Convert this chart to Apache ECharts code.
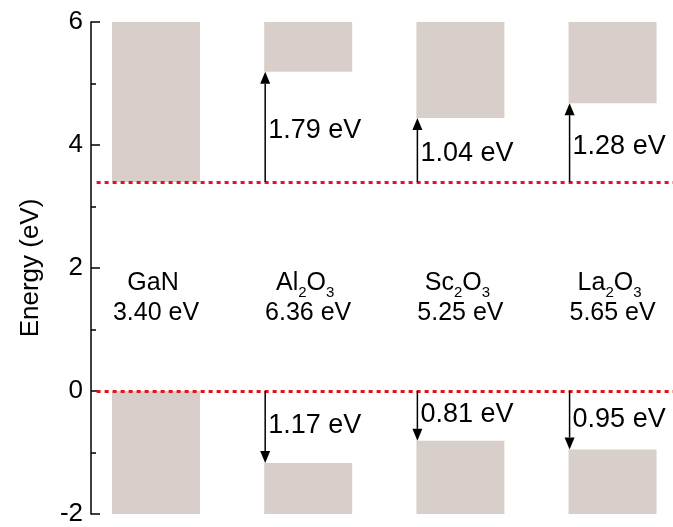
<!DOCTYPE html>
<html><head><meta charset="utf-8">
<script src="https://cdn.jsdelivr.net/npm/echarts@6/dist/echarts.min.js"></script>
<style>html,body{margin:0;padding:0;background:#fff}#c{width:673px;height:527px}</style>
</head><body><div id="c"></div>
<script>
// ---- data ----
const materials = ['GaN', 'Al2O3', 'Sc2O3', 'La2O3'];
const bandGaps = [3.40, 6.36, 5.25, 5.65];
const bandGapLabels = ['3.40 eV', '6.36 eV', '5.25 eV', '5.65 eV'];
const cbOffsets = [null, 1.79, 1.04, 1.28];   // conduction band offsets vs GaN
const vbOffsets = [null, 1.17, 0.81, 0.95];   // valence band offsets vs GaN
const cbOffsetLabels = [null, '1.79 eV', '1.04 eV', '1.28 eV'];
const vbOffsetLabels = [null, '1.17 eV', '0.81 eV', '0.95 eV'];
const referenceLevels = [0, 3.40];            // GaN VBM and CBM
const yTicks = [-2, 0, 2, 4, 6];
const yMin = -2, yMax = 6;

// ---- build ----
const FONT = '"Liberation Sans", Arial, sans-serif';
const gaNCbm = bandGaps[0];
const bars = [];
materials.forEach((m, i) => {
  const cb = i === 0 ? gaNCbm : gaNCbm + cbOffsets[i];
  const vb = i === 0 ? 0 : -vbOffsets[i];
  bars.push([i, cb, yMax]);
  bars.push([i, yMin, vb]);
});
const arrows = [];
materials.forEach((m, i) => {
  if (i === 0) return;
  arrows.push([i, gaNCbm, gaNCbm + cbOffsets[i], cbOffsetLabels[i]]);
  arrows.push([i, 0, -vbOffsets[i], vbOffsetLabels[i]]);
});
const labelData = materials.map((m, i) => [i, m, bandGapLabels[i]]);

const BAR_W = 88;
const chart = echarts.init(document.getElementById('c'));
chart.setOption({
  animation: false,
  backgroundColor: '#fff',
  grid: { left: 91, right: 0, top: 22, bottom: 11, containLabel: false },
  xAxis: { type: 'value', min: -0.427, max: 3.397, show: false },
  yAxis: {
    type: 'value', min: yMin, max: yMax, interval: 2,
    name: 'Energy (eV)', nameLocation: 'middle', nameGap: 47,
    nameTextStyle: { fontSize: 26, color: '#000', fontFamily: FONT },
    axisLine: { show: true, onZero: false, lineStyle: { color: '#000', width: 1.5 } },
    axisTick: { show: true, inside: true, length: 9, lineStyle: { color: '#000', width: 1.5 } },
    minorTick: { show: true, splitNumber: 2, length: 5, lineStyle: { color: '#000', width: 1.5 } },
    splitLine: { show: false },
    axisLabel: { fontSize: 26, color: '#000', fontFamily: FONT, margin: 8,
      formatter: v => yTicks.includes(v) ? String(v) : '' }
  },
  series: [
    {
      type: 'custom', z: 2, clip: false,
      data: bars,
      renderItem(params, api) {
        const x = api.value(0), lo = api.value(1), hi = api.value(2);
        const p1 = api.coord([x, hi]), p2 = api.coord([x, lo]);
        return { type: 'rect', shape: { x: p1[0] - BAR_W / 2, y: p1[1], width: BAR_W, height: p2[1] - p1[1] },
          style: { fill: '#d8cfcb' } };
      }
    },
    {
      type: 'line', z: 5, data: [], silent: true,
      markLine: {
        silent: true, symbol: ['none', 'none'], label: { show: false },
        lineStyle: { color: '#e8101a', type: [4, 4], width: 3 },
        data: referenceLevels.map(v => [{ coord: [-0.39, v] }, { coord: [3.397, v] }])
      }
    },
    {
      type: 'custom', z: 6, clip: false,
      data: arrows,
      renderItem(params, api) {
        const i = api.value(0), from = api.value(1), to = api.value(2);
        const label = arrows[params.dataIndex][3];
        const c = api.coord([i, from]), t = api.coord([i, to]);
        const x = c[0] - BAR_W / 2 + 1;
        const y0 = c[1], y1 = t[1];
        const dir = y1 < y0 ? -1 : 1;
        const headL = 12, headW = 5;
        const mid = api.coord([i, (from + to) / 2]);
        const shift = dir < 0 ? 4 : -1;
        return { type: 'group', children: [
          { type: 'line', shape: { x1: x, y1: y0, x2: x, y2: y1 - dir * headL },
            style: { stroke: '#000', lineWidth: 1.5 } },
          { type: 'polygon', shape: { points: [[x, y1], [x - headW, y1 - dir * headL], [x + headW, y1 - dir * headL]] },
            style: { fill: '#000' } },
          { type: 'text', x: x + 3, y: mid[1] + shift,
            style: { text: label, fontSize: 27, fontFamily: FONT, fill: '#000', align: 'left', verticalAlign: 'middle' } }
        ] };
      }
    },
    {
      type: 'custom', z: 6, clip: false,
      data: labelData,
      renderItem(params, api) {
        const i = api.value(0);
        const d = labelData[params.dataIndex];
        const rich = d[1].replace(/([A-Za-z]+)/g, '{m|$1}').replace(/(\d)/g, '{s|$1}');
        const pName = api.coord([i, 1.72]);
        const pGap = api.coord([i, 1.27]);
        return { type: 'group', children: [
          { type: 'text', x: pName[0] - 3, y: pName[1],
            style: { text: rich, fontFamily: FONT, fill: '#000', align: 'center', verticalAlign: 'middle',
              rich: {
                m: { fontSize: 25, lineHeight: 30, padding: [0, 0, 8, 0], verticalAlign: 'top', fontFamily: FONT, color: '#000' },
                s: { fontSize: 15, lineHeight: 15, verticalAlign: 'bottom', fontFamily: FONT, color: '#000' }
              } } },
          { type: 'text', x: pGap[0], y: pGap[1],
            style: { text: d[2], fontSize: 25, fontFamily: FONT, fill: '#000', align: 'center', verticalAlign: 'middle' } }
        ] };
      }
    }
  ]
});
</script></body></html>
